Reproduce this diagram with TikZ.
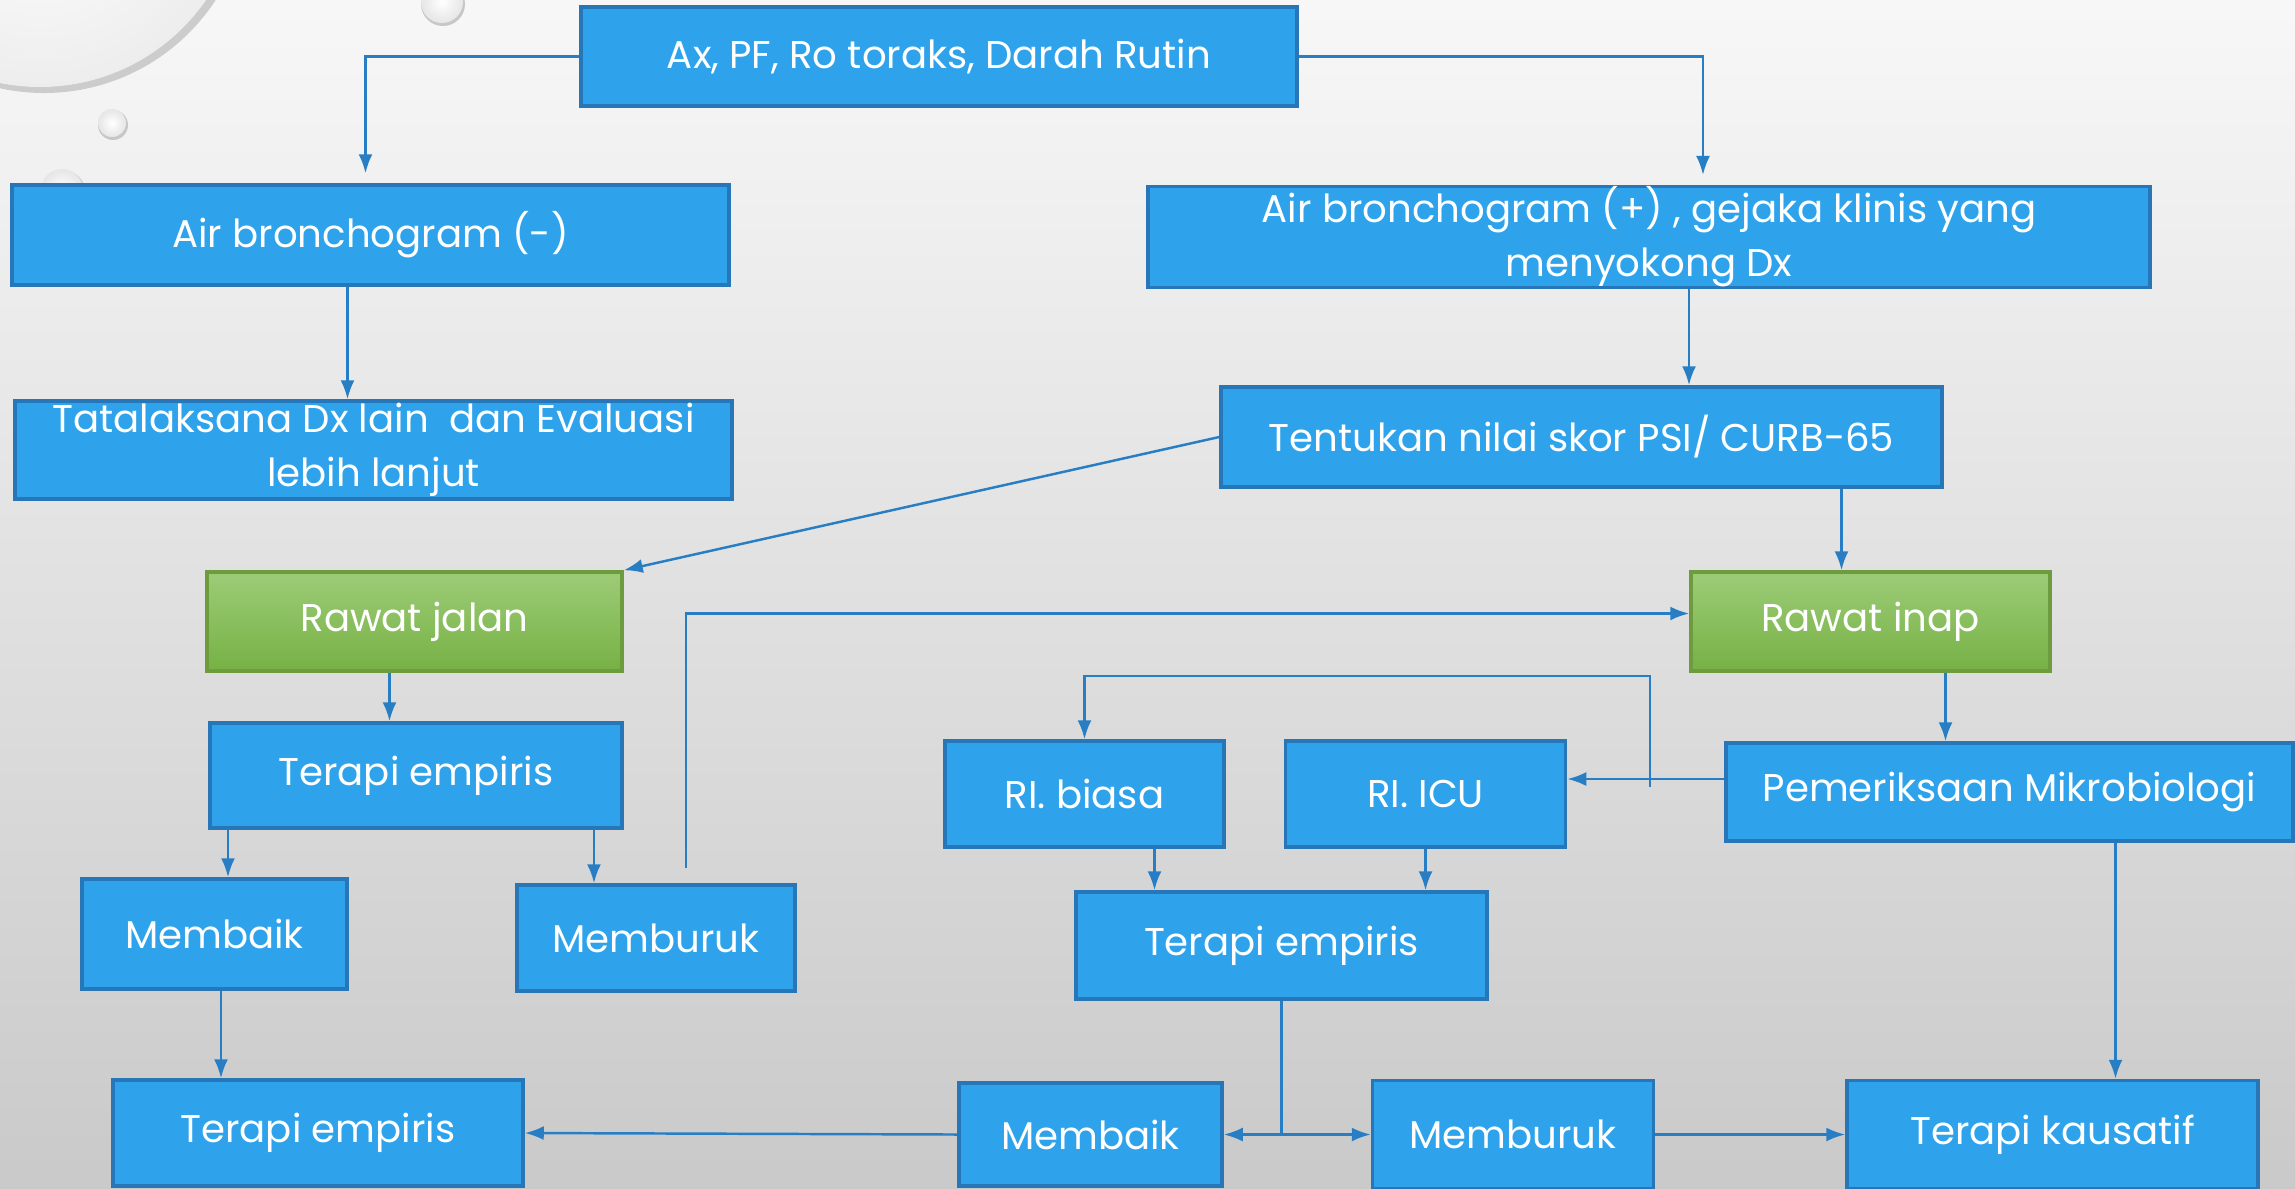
\documentclass[tikz,border=0pt]{standalone}
\usepackage{fontspec}
\setmainfont{Poppins}
\usetikzlibrary{positioning,calc,arrows.meta}

\definecolor{boxblue}{RGB}{46,163,236}
\definecolor{boxline}{RGB}{38,118,184}
\definecolor{greentop}{RGB}{157,204,120}
\definecolor{greenbot}{RGB}{118,177,68}
\definecolor{greenline}{RGB}{108,156,62}
\definecolor{linkblue}{RGB}{40,126,196}

\begin{document}
\begin{tikzpicture}
  \tikzset{box/.style={draw=boxline, line width=1pt, fill=boxblue, text=white,
      inner sep=0pt, align=center, font=\fontsize{11}{15.4}\selectfont},
    greenbox/.style={box, draw=greenline, top color=greentop, bottom color=greenbot},
    link/.style={draw=linkblue, line width=0.7pt},
    arr/.style={link, -{Latex[length=1.9mm,width=1.4mm]}},
    arrboth/.style={link, {Latex[length=1.9mm,width=1.4mm]}-{Latex[length=1.9mm,width=1.4mm]}}
  }

  % background and drops
  \useasboundingbox (0,0) rectangle (22.95,-11.88);
  \begin{scope}
    \clip (0,0) rectangle (22.95,-11.88);
    \shade[top color=black!3, bottom color=black!21] (0,0) rectangle (22.95,-11.88);
    \fill[black!20] (0.44,1.12) circle (2.05);
    \shade[inner color=white, outer color=black!7] (0.40,1.15) circle (2.02);
    \fill[black!22] (1.13,-1.25) circle (0.15);
    \shade[inner color=white, outer color=black!10] (1.12,-1.23) circle (0.14);
    \fill[black!22] (4.43,-0.04) circle (0.22);
    \shade[inner color=white, outer color=black!10] (4.42,-0.02) circle (0.21);
    \fill[black!22] (0.63,-1.92) circle (0.22);
    \shade[inner color=white, outer color=black!10] (0.62,-1.90) circle (0.21);
  \end{scope}

  \node[box, minimum width=7.16cm, minimum height=0.99cm] (A) at (9.39,-0.565) {Ax, PF, Ro toraks, Darah Rutin};

  \node[box, minimum width=7.17cm, minimum height=1.0cm] (B1) at (3.705,-2.35) {Air bronchogram (-)};
  \node[box, minimum width=10.02cm, minimum height=1.0cm] (B2) at (16.49,-2.37)
  {Air bronchogram (+) , gejaka klinis yang\\ menyokong Dx};

  \node[box, minimum width=7.17cm, minimum height=0.98cm] (C1) at (3.735,-4.50)
  {Tatalaksana Dx lain~ dan Evaluasi\\ lebih lanjut};
  \node[box, minimum width=7.21cm, minimum height=1.0cm] (D) at (15.815,-4.37) {Tentukan nilai skor PSI/ CURB-65};

  \node[greenbox, minimum width=4.15cm, minimum height=0.99cm] (E1) at (4.145,-6.215) {Rawat jalan};
  \node[greenbox, minimum width=3.59cm, minimum height=0.99cm] (E2) at (18.705,-6.215) {Rawat inap};

  \node[box, minimum width=4.12cm, minimum height=1.05cm] (F1) at (4.16,-7.755) {Terapi empiris};
  \node[box, minimum width=2.79cm, minimum height=1.06cm] (G1) at (10.845,-7.94) {RI. biasa};
  \node[box, minimum width=2.8cm, minimum height=1.06cm] (G2) [right=0.58cm of G1] {RI. ICU};
  \node[box, minimum width=5.67cm, minimum height=0.98cm] (G3) at (20.095,-7.92) {Pemeriksaan Mikrobiologi};

  \node[box, minimum width=2.65cm, minimum height=1.1cm] (H1) at (2.145,-9.34) {Membaik};
  \node[box, minimum width=2.78cm, minimum height=1.06cm] (H2) at (6.56,-9.38) {Memburuk};
  \node[box, minimum width=4.11cm, minimum height=1.07cm] (F2) at (12.815,-9.455) {Terapi empiris};

  \node[box, minimum width=4.1cm, minimum height=1.06cm] (K1) at (3.18,-11.33) {Terapi empiris};
  \node[box, minimum width=2.63cm, minimum height=1.03cm] (K2) at (10.905,-11.345) {Membaik};
  \node[box, minimum width=2.81cm, minimum height=1.08cm] (K3) [right=1.47cm of K2] {Memburuk};
  \node[box, minimum width=4.11cm, minimum height=1.08cm] (K4) [right=1.9cm of K3] {Terapi kausatif};

  \coordinate (P) at (16.5,-7.87);

  \draw[arr, shorten >=1mm] (A.west) -| ([xshift=-0.05cm]B1.north);
  \draw[arr, shorten >=1mm] (A.east) -| ([xshift=0.54cm]B2.north);
  \draw[arr] ([xshift=-0.23cm]B1.south) -- ([xshift=-0.23cm]B1.south |- C1.north);
  \draw[arr] ([xshift=0.4cm]B2.south) -- ([xshift=0.4cm]B2.south |- D.north);

  \draw[arr] (D.west) -- (E1.north east);
  \draw[arr] ([xshift=2.6cm]D.south) -- ([xshift=2.6cm]D.south |- E2.north);

  \draw[arr] ([xshift=-0.25cm]E1.south) -- ([xshift=-0.25cm]E1.south |- F1.north);
  \draw[arr] ([xshift=-1.88cm]F1.south) -- ([xshift=-1.88cm]F1.south |- H1.north);
  \draw[arr] ([xshift=1.78cm]F1.south) -- ([xshift=1.78cm]F1.south |- H2.north);
  \draw[arr] ([xshift=0.3cm,yshift=0.15cm]H2.north) |- ([yshift=0.08cm]E2.west);

  \draw[arr] ([xshift=0.75cm]E2.south) -- ([xshift=0.75cm]E2.south |- G3.north);
  \draw[arr] ([yshift=0.13cm]G3.west) -- ([yshift=0.13cm]G3.west -| G2.east);
  \draw[arr] (P) -- ++(0,1.11) -| (G1);

  \draw[arr] ([xshift=0.7cm]G1.south) -- ([xshift=0.7cm]G1.south |- F2.north);
  \draw[arr] (G2.south) -- (G2.south |- F2.north);
  \draw[arr] ([xshift=1.06cm]G3.south) -- ([xshift=1.06cm]G3.south |- K4.north);

  \draw[arr] ([xshift=0.65mm]H1.south) -- ([xshift=0.65mm]H1.south |- K1.north);
  \draw[link] (F2.south) -- (F2.south |- K2.east);
  \draw[arrboth] (K2.east) -- (K2.east -| K3.west);
  \draw[arr] (K3.east) -- (K3.east -| K4.west);
  \draw[arr] (K2.west) -- (K1.east);
\end{tikzpicture}
\end{document}
